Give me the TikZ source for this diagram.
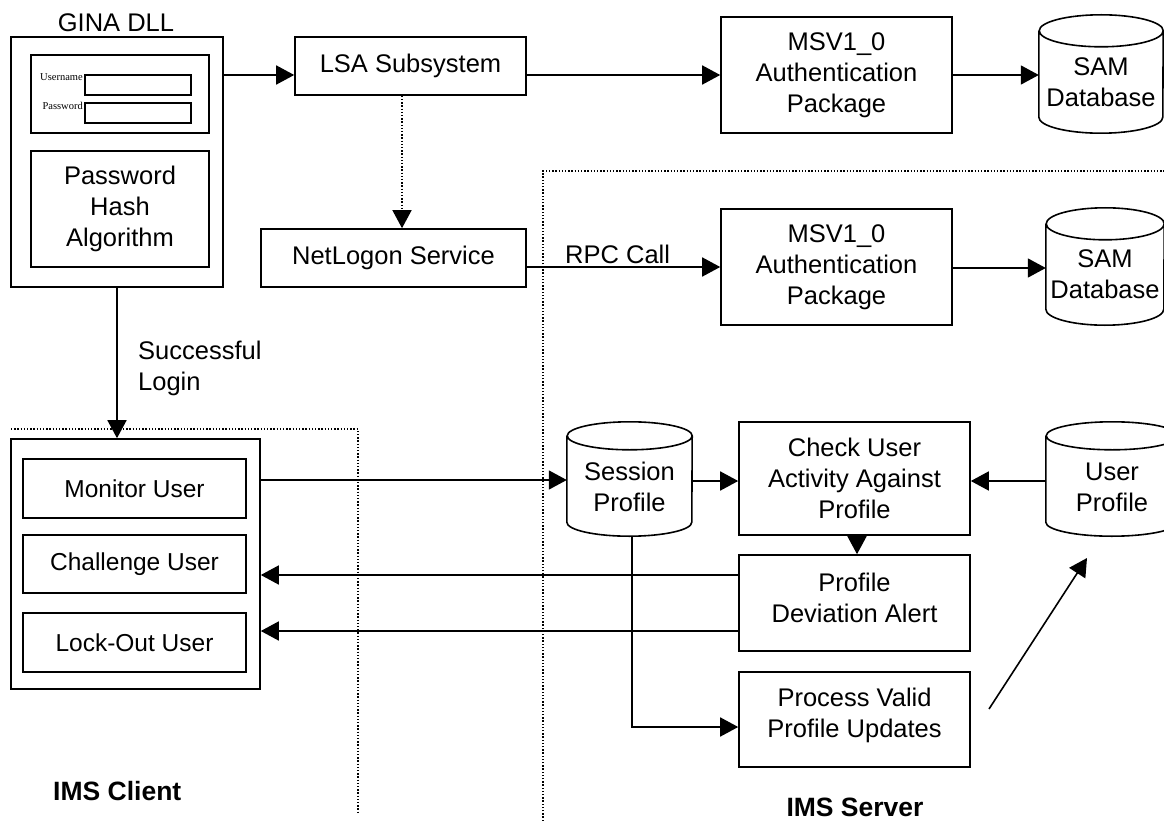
\documentclass[tikz,border=0pt]{standalone}
\usepackage{fontspec}
\setmainfont{Liberation Sans}
\newfontfamily\tinyserif{Liberation Serif}
\usetikzlibrary{arrows.meta}
\newcommand\cylshape[3]{%
  \draw[line width=1.6pt] ([yshift=-#3]#1.north west) -- ([yshift=#3]#1.south west)
    arc[start angle=180,end angle=360,x radius=#2,y radius=#3]
    -- ([yshift=-#3]#1.north east)
    arc[start angle=0,end angle=360,x radius=#2,y radius=#3];}
\begin{document}
\begin{tikzpicture}[x=1pt,y=-1pt,
  txt/.style={font=\fontsize{25.5}{31}\selectfont},
  smalltxt/.style={font=\fontsize{24.5}{30}\selectfont},
  box/.style={draw, line width=1.6pt, align=center, inner sep=0pt, txt},
  sz/.style 2 args={minimum width=#1pt, minimum height=#2pt},
  cyl/.style={inner sep=0pt, align=center, txt},
  ctext/.style={label={[txt,align=center,yshift=-8pt]center:#1}},
  btext/.style 2 args={label={[txt,align=center,yshift=#2]center:#1}},
  arr/.style={line width=1.6pt, -{Triangle[length=18pt,width=19pt]}},
  dotline/.style={line width=1.4pt, dash pattern=on 1.4pt off 1.8pt},
  field/.style={draw, line width=1.6pt, inner sep=0pt},
  flabel/.style={font=\tinyserif\fontsize{10.5}{12}\selectfont, inner sep=0pt, anchor=base east},
  region/.style={font=\bfseries\fontsize{26.5}{30}\selectfont, inner sep=0pt}
]
\useasboundingbox (0,0) rectangle (1164,821);

% dotted boundaries
\draw[dotline] (11,429) -- (358,429) -- (358,813);
\draw[dotline] (543,821) -- (543,171) -- (1164,171);

% GINA DLL
\node[txt, anchor=base, inner sep=0pt] (ginalbl) at (116,32) {GINA DLL};
\node[box, sz={212}{250}] (gina) at (117,162) {};
\node[box, sz={178}{78}] (login) at (120,94) {};
\node[field, sz={106}{20}] (ufield) at (138,85) {};
\node[field, sz={106}{20}] (pfield) at (138,113) {};
\node[flabel] (ulbl) at (83,81) {Username};
\node[flabel] (plbl) at (83,110) {Password};
\node[box, sz={178}{116}] (hash) at (120,209) {Password\\Hash\\Algorithm};

% top row
\node[box, sz={231}{58}] (lsa) at (410.5,66) {LSA Subsystem};
\node[box, sz={265}{58}] (net) at (393.5,258) {NetLogon Service};
\node[box, sz={231}{116}] (msv1) at (836.5,75) {MSV1\_0\\Authentication\\Package};
\node[box, sz={231}{116}] (msv2) at (836.5,267) {MSV1\_0\\Authentication\\Package};
\node[cyl, sz={124}{118}, ctext={SAM\\Database}] (sam1) at (1101,74) {};
\cylshape{sam1}{62pt}{16pt}
\node[cyl, sz={118}{117}, ctext={SAM\\Database}] (sam2) at (1105,266.5) {};
\cylshape{sam2}{59pt}{16pt}

% server side
\node[cyl, sz={125}{114}, ctext={Session\\Profile}] (session) at (629.5,479) {};
\cylshape{session}{62.5pt}{14pt}
\node[cyl, sz={132}{114}, ctext={User\\Profile}] (user) at (1112,479) {};
\cylshape{user}{66pt}{14pt}
\node[box, sz={231}{113}] (check) at (854.5,478.5) {Check User\\Activity Against\\Profile};
\node[box, sz={231}{96}, btext={Profile\\Deviation Alert}{5pt}] (pda) at (854.5,603) {};
\node[box, sz={231}{95}, btext={Process Valid\\Profile Updates}{4pt}] (pvu) at (854.5,719.5) {};

% client side
\node[box, sz={249}{250}] (client) at (135.5,564) {};
\node[box, smalltxt, sz={223}{59}] (mon) at (134.5,488.5) {Monitor User};
\node[box, smalltxt, sz={223}{58}] (chal) at (134.5,564) {Challenge User};
\node[box, smalltxt, sz={223}{59}] (lock) at (134.5,642.5) {Lock-Out User};

% labels
\node[txt, anchor=west, align=left, inner sep=0pt] (login-lbl) at (138,368) {Successful\\Login};
\node[txt, anchor=base west, inner sep=0pt] (rpc) at (565,263) {RPC Call};
\node[region, anchor=base west] (imsc) at (53,800) {IMS Client};
\node[region, anchor=base] (imss) at (855,816) {IMS Server};

% connectors
\draw[arr] (gina.east |- 0,75) -- (lsa.west |- 0,75);
\draw[arr] (lsa.east |- 0,75) -- (msv1.west |- 0,75);
\draw[arr] (msv1.east |- 0,75) -- (sam1.west |- 0,75);
\draw[arr, dotline, line width=1.4pt] (lsa.south -| 402,0) -- (net.north -| 402,0);
\draw[arr] (net.east |- 0,267) -- (msv2.west |- 0,267);
\draw[arr] (msv2.east |- 0,268) -- (sam2.west |- 0,268);
\draw[arr] (gina.south -| 117,0) -- (client.north -| 117,0);
\draw[arr] (client.east |- 0,480) -- (session.west |- 0,480);
\draw[arr] (session.east |- 0,481) -- (check.west |- 0,481);
\draw[arr] (user.west |- 0,481) -- (check.east |- 0,481);
\draw[arr] (check.south -| 857,0) -- (pda.north -| 857,0);
\draw[arr] (pda.west |- 0,575) -- (client.east |- 0,575);
\draw[arr] (pda.west |- 0,631) -- (client.east |- 0,631);
\draw[arr] (session.south -| 632,0) |- (pvu.west |- 0,727);
\coordinate (d1) at (989,709);
\coordinate (d2) at (1087,558);
\draw[arr] (d1) -- (d2);
\end{tikzpicture}
\end{document}
